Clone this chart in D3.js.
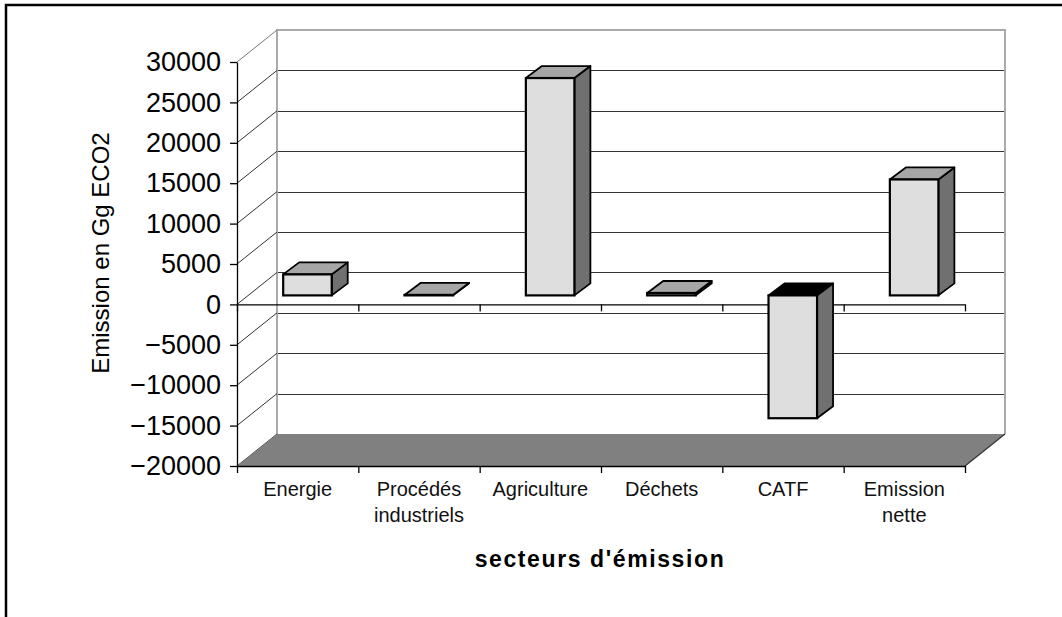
<!DOCTYPE html>
<html>
<head>
<meta charset="utf-8">
<script src="https://cdn.jsdelivr.net/npm/d3@7"></script>
<style>
  html, body { margin: 0; padding: 0; background: #fff; }
  svg { display: block; }
  text { font-family: "Liberation Sans", Arial, sans-serif; }
</style>
</head>
<body>
<script>
// ---- data ----
const categories = ["Energie", "Procédés industriels", "Agriculture", "Déchets", "CATF", "Emission nette"];
const categoryLabelLines = [["Energie"], ["Procédés", "industriels"], ["Agriculture"], ["Déchets"], ["CATF"], ["Emission", "nette"]];
const emissionValues = [2600, 60, 26900, 300, -15200, 14350];
const yTickValues = [-20000, -15000, -10000, -5000, 0, 5000, 10000, 15000, 20000, 25000, 30000];
const yAxisTitle = "Emission en Gg ECO2";
const xAxisTitle = "secteurs d'émission";

// ---- layout ----
const W = 1062, H = 617;
const svg = d3.select("body").append("svg").attr("width", W).attr("height", H);

const x = d3.scaleBand().domain(categories).range([237, 965]).padding(0);
const xIdx = d3.scaleLinear().domain([0, categories.length]).range([237, 965]);
const y = d3.scaleLinear().domain([-20000, 30000]).range([466, 62]);

const wall = { dx: 40, dy: -32 };   // depth of the 3D box
const barFront = { dx: 11, dy: -9 }; // front plane of bars
const barDepth = { dx: 16, dy: -12 }; // depth of bars

const x0 = 237, x1 = 965;
const yTop = y(30000), yBot = y(-20000);

// outer frame
svg.append("rect").attr("x", 6).attr("y", 5).attr("width", 1200).attr("height", 800)
  .attr("fill", "none").attr("stroke", "#000").attr("stroke-width", 2.5);

const g = svg.append("g");

// back wall gridlines
g.selectAll("line.grid").data(yTickValues.filter(t => t > -20000 && t < 30000)).join("line")
  .attr("class", "grid")
  .attr("x1", x0 + wall.dx).attr("x2", x1 + wall.dx)
  .attr("y1", d => Math.round(y(d) + wall.dy) + 0.5).attr("y2", d => Math.round(y(d) + wall.dy) + 0.5)
  .attr("stroke", "#333").attr("stroke-width", 1);

// back wall edges
g.append("path")
  .attr("d", `M${x0 + wall.dx},${yBot + wall.dy} L${x0 + wall.dx},${yTop + wall.dy} L${x1 + wall.dx},${yTop + wall.dy} L${x1 + wall.dx},${yBot + wall.dy}`)
  .attr("fill", "none").attr("stroke", "#aaa").attr("stroke-width", 2);

// side wall diagonals
g.selectAll("line.diag").data(yTickValues).join("line")
  .attr("class", "diag")
  .attr("x1", x0).attr("y1", d => y(d))
  .attr("x2", x0 + wall.dx).attr("y2", d => y(d) + wall.dy)
  .attr("stroke", d => d === 30000 ? "#777" : "#333").attr("stroke-width", 1);

// floor
g.append("path")
  .attr("d", `M${x0},${yBot} L${x1},${yBot} L${x1 + wall.dx},${yBot + wall.dy} L${x0 + wall.dx},${yBot + wall.dy} Z`)
  .attr("fill", "#808080").attr("stroke", "none");
g.append("line")
  .attr("x1", x1).attr("y1", yBot).attr("x2", x1 + wall.dx).attr("y2", yBot + wall.dy)
  .attr("stroke", "#333").attr("stroke-width", 1.2);

// zero category axis
const zeroAxis = d3.axisBottom(xIdx).tickValues(d3.range(0, categories.length + 1)).tickFormat("").tickSize(7).tickSizeOuter(0);
g.append("g").attr("transform", `translate(0,${y(0)})`).call(zeroAxis)
  .call(s => s.selectAll("path,line").attr("stroke", "#000").attr("stroke-width", 1.3));

// bottom category axis
const botAxis = d3.axisBottom(xIdx).tickValues(d3.range(0, categories.length + 1)).tickFormat("").tickSize(7).tickSizeOuter(0);
g.append("g").attr("transform", `translate(0,${yBot})`).call(botAxis)
  .call(s => s.selectAll("path,line").attr("stroke", "#000").attr("stroke-width", 1.3));

// bars
const bw = x.bandwidth();
const barW = bw * 0.40;
const barOff = bw * 0.29;
const bars = g.selectAll("g.bar").data(categories.map((c, i) => ({ c, v: emissionValues[i] }))).join("g").attr("class", "bar");
bars.each(function (d) {
  const sel = d3.select(this);
  const L = x(d.c) + barOff + barFront.dx;
  const R = L + barW;
  const yv = y(d.v) + barFront.dy;
  const y0 = y(0) + barFront.dy;
  const top = Math.min(yv, y0), bot = Math.max(yv, y0);
  const dx = barDepth.dx, dy = barDepth.dy;
  const neg = d.v < 0;
  // side face
  sel.append("path")
    .attr("d", `M${R},${top} L${R + dx},${top + dy} L${R + dx},${bot + dy} L${R},${bot} Z`)
    .attr("fill", "#707070").attr("stroke", "#000").attr("stroke-width", 1.8).attr("stroke-linejoin", "round");
  // top face
  sel.append("path")
    .attr("d", `M${L},${top} L${L + dx},${top + dy} L${R + dx},${top + dy} L${R},${top} Z`)
    .attr("fill", neg ? "#000" : "#a6a6a6").attr("stroke", "#000").attr("stroke-width", 1.8).attr("stroke-linejoin", "round");
  // front face
  sel.append("rect")
    .attr("x", L).attr("y", top).attr("width", barW).attr("height", Math.max(0.01, bot - top))
    .attr("fill", "#dedede").attr("stroke", "#000").attr("stroke-width", 2.2);
});

// y axis
const yAxis = d3.axisLeft(y).tickValues(yTickValues).tickSize(7).tickSizeOuter(0).tickPadding(9).tickFormat(d3.format("d"));
const ya = g.append("g").attr("transform", `translate(${x0},0)`).call(yAxis);
ya.selectAll("path,line").attr("stroke", "#000").attr("stroke-width", 1.3);
ya.selectAll("text").attr("font-size", 27).attr("fill", "#000").attr("font-family", "'Liberation Sans', Arial, sans-serif");

// category labels
const labs = g.selectAll("text.cat").data(categories).join("text")
  .attr("class", "cat")
  .attr("text-anchor", "middle")
  .attr("font-size", 20).attr("fill", "#111");
labs.each(function (c, i) {
  const t = d3.select(this);
  categoryLabelLines[i].forEach((line, k) => {
    t.append("tspan").attr("x", x(c) + bw / 2).attr("y", 496 + k * 26).text(line);
  });
});

// axis titles
svg.append("text")
  .attr("transform", `translate(109,253) rotate(-90)`)
  .attr("text-anchor", "middle")
  .attr("font-size", 24).attr("fill", "#000")
  .text(yAxisTitle);

svg.append("text")
  .attr("x", 600).attr("y", 567)
  .attr("text-anchor", "middle")
  .attr("font-size", 23).attr("font-weight", "bold").attr("letter-spacing", 1.6).attr("fill", "#000")
  .text(xAxisTitle);
</script>
</body>
</html>
